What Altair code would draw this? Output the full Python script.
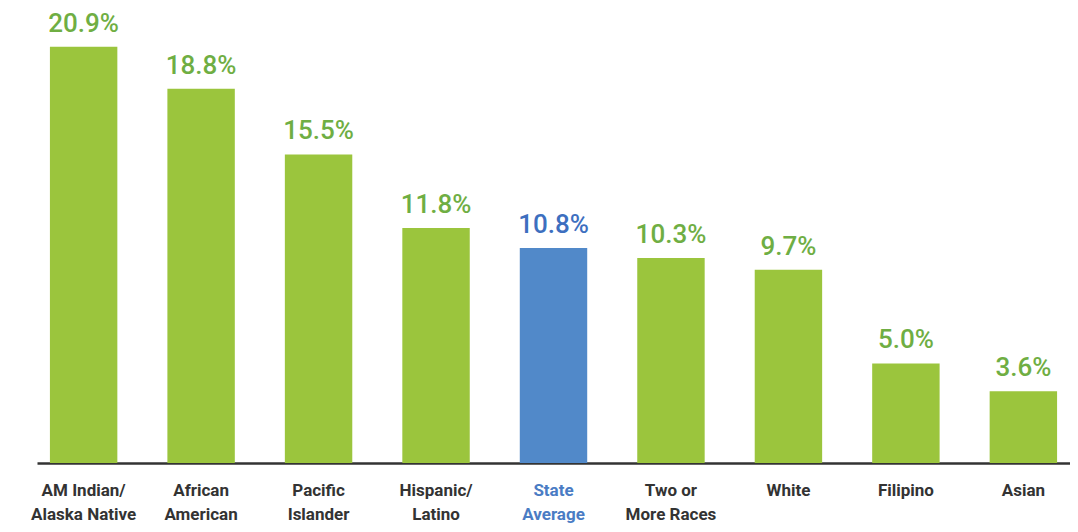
import altair as alt
import pandas as pd

categories = ["AM Indian/|Alaska Native", "African|American", "Pacific|Islander",
              "Hispanic/|Latino", "State|Average", "Two or|More Races", "White",
              "Filipino", "Asian"]
values = [20.9, 18.8, 15.5, 11.8, 10.8, 10.3, 9.7, 5.0, 3.6]
labels = ["20.9%", "18.8%", "15.5%", "11.8%", "10.8%", "10.3%", "9.7%", "5.0%", "3.6%"]
groups = ["group", "group", "group", "group", "average", "group", "group", "group", "group"]

df = pd.DataFrame({"cat": categories, "val": values, "lab": labels, "grp": groups})

x = alt.X("cat:N", sort=categories, title=None,
          scale=alt.Scale(paddingInner=0.426, paddingOuter=0.11),
          axis=alt.Axis(labelExpr="split(datum.label, '|')", labelAngle=0,
                        labelFont="Roboto", labelFontWeight="bold", labelFontSize=17,
                        labelColor=alt.condition("datum.value == 'State|Average'",
                                                 alt.value("#4a7cc4"), alt.value("#333333")),
                        labelPadding=19, labelBaseline="top", labelLineHeight=24,
                        ticks=False, domainColor="#333333", domainWidth=2.5,
                        labelLimit=200))
y = alt.Y("val:Q", scale=alt.Scale(domain=[0, 22.5], nice=False), axis=None)

color = alt.Color("grp:N", legend=None,
                  scale=alt.Scale(domain=["group", "average"], range=["#9bc53d", "#5189c9"]))
tcolor = alt.Color("grp:N", legend=None,
                   scale=alt.Scale(domain=["group", "average"], range=["#6fae43", "#3d6fbf"]))

base = alt.Chart(df)
bars = base.mark_bar().encode(x=x, y=y, color=color)
text = base.mark_text(baseline="alphabetic", dy=-15, font="Roboto", fontSize=26,
                      fontWeight=500).encode(x=x, y=y, text="lab:N", color=tcolor)

chart = alt.layer(bars, text).resolve_scale(color="independent").properties(
    width=1033, height=448,
    padding={"left": 29, "top": 7, "right": 0, "bottom": 62},
    autosize=alt.AutoSizeParams(type="none"),
    background="white",
).configure_view(strokeWidth=0, stroke="transparent")

chart.save("out.html", embed_options={"renderer": "svg", "actions": False})
